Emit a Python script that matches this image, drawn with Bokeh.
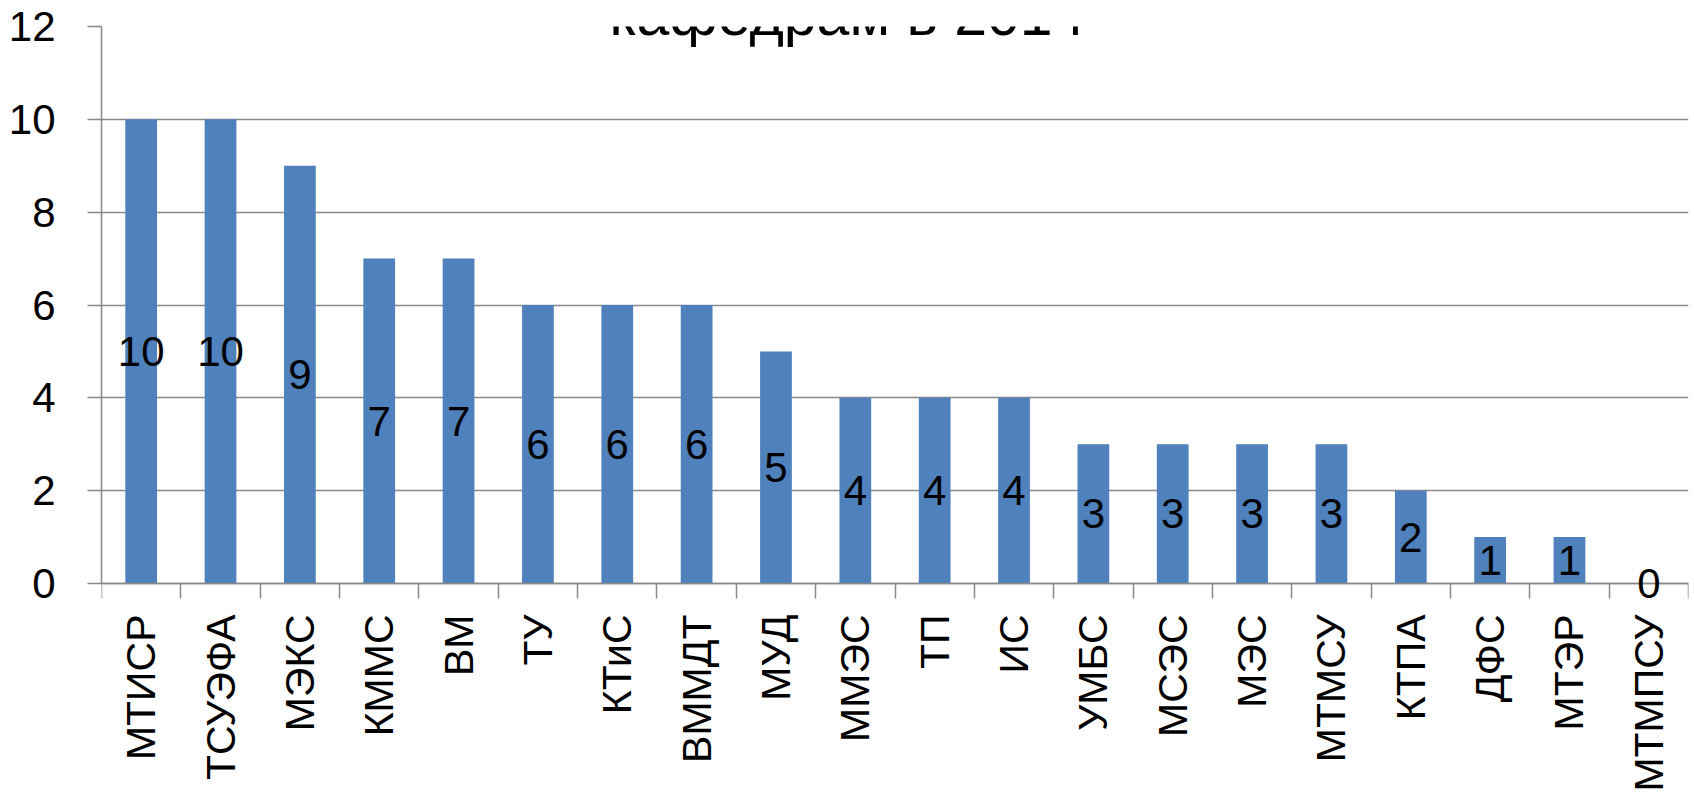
import math
from bokeh.plotting import figure
from bokeh.models import Range1d, FixedTicker, Label, ColumnDataSource
from bokeh.embed import file_html
from bokeh.resources import INLINE

# ---- data ----
departments = ["МТИСР", "ТСУЭФА", "МЭКС", "КММС", "ВМ", "ТУ", "КТиС", "ВММДТ", "МУД",
               "ММЭС", "ТП", "ИС", "УМБС", "МСЭС", "МЭС", "МТМСУ", "КТПА", "ДФС",
               "МТЭР", "МТМПСУ"]
counts = [10, 10, 9, 7, 7, 6, 6, 6, 5, 4, 4, 4, 3, 3, 3, 3, 2, 1, 1, 0]
y_ticks = [0, 2, 4, 6, 8, 10, 12]
title_text = "кафедрам в 2014"

FONT = "Liberation Sans"
GRAY = "#898989"
BAR = "#4F81BD"

# ---- layout (pixels) ----
W, H = 1694, 797
TOP, LEFT, RIGHT = 26, 101, 6
ZERO_PX = 583                      # where value 0 sits, from the top
px_per_unit = (ZERO_PX - TOP) / 12
y_start = -(H - ZERO_PX) / px_per_unit   # frame runs to the bottom edge

n = len(departments)
centers = [i + 0.5 for i in range(n)]
boundaries = list(range(n + 1))

src = ColumnDataSource(dict(x=centers, top=counts))

p = figure(width=W, height=H, output_backend="svg", toolbar_location=None,
           x_range=Range1d(0, n), y_range=Range1d(y_start, 12),
           min_border_left=LEFT, min_border_right=RIGHT, min_border_top=TOP,
           min_border_bottom=0)
p.outline_line_color = None
p.background_fill_color = "white"
p.border_fill_color = "white"

p.vbar(x="x", top="top", width=0.4, source=src, fill_color=BAR, line_color=None)

# value labels centred in each bar
for xc, c in zip(centers, counts):
    p.add_layout(Label(x=xc, y=c / 2, text=str(c), text_align="center",
                       text_baseline="middle", text_font=FONT,
                       text_font_size="42px", text_color="black",
                       level="overlay"))

# x axis drawn at y = 0: ticks between categories, labels at centres
xa = p.xaxis[0]
xa.fixed_location = 0
xa.ticker = FixedTicker(ticks=centers, minor_ticks=boundaries)
xa.major_label_overrides = {c: d for c, d in zip(centers, departments)}
xa.major_label_orientation = math.pi / 2
xa.major_label_text_font = FONT
xa.major_label_text_font_size = "41px"
xa.major_label_text_color = "black"
xa.major_label_standoff = 16
xa.major_tick_out = 0
xa.major_tick_in = 0
xa.minor_tick_out = 15
xa.minor_tick_in = 0
xa.minor_tick_line_color = GRAY
xa.minor_tick_line_width = 1.5
xa.axis_line_color = GRAY
xa.axis_line_width = 1.5

# y axis
ya = p.yaxis[0]
ya.bounds = (0, 12)
ya.ticker = FixedTicker(ticks=y_ticks, minor_ticks=[])
ya.major_label_text_font = FONT
ya.major_label_text_font_size = "42px"
ya.major_label_text_color = "black"
ya.major_label_standoff = 32
ya.major_tick_out = 14
ya.major_tick_in = 0
ya.major_tick_line_color = GRAY
ya.major_tick_line_width = 1.5
ya.axis_line_color = GRAY
ya.axis_line_width = 1.5

p.xgrid.grid_line_color = None
p.ygrid.ticker = FixedTicker(ticks=y_ticks)
p.ygrid.grid_line_color = GRAY
p.ygrid.grid_line_width = 1.5

# chart title, cropped at the top edge as in the original picture
p.add_layout(Label(x=9.4, y=12.25, text=title_text, text_align="center",
                   text_baseline="alphabetic", text_font=FONT,
                   text_font_size="59px", text_color="black"))

open("out.html", "w").write(file_html(p, INLINE))
